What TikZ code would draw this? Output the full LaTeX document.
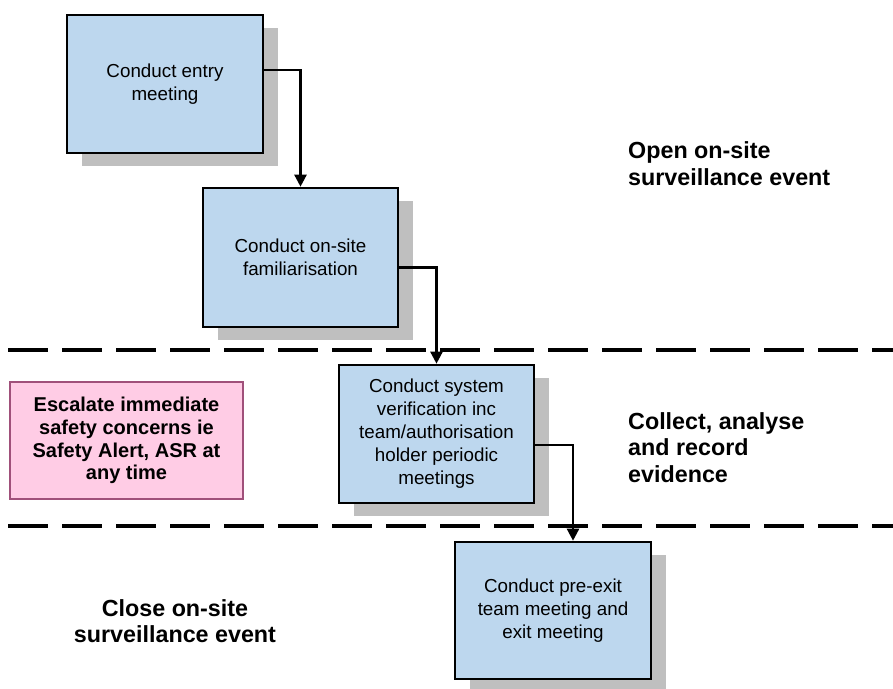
\documentclass[tikz,border=0pt]{standalone}
\usepackage{fontspec}
\setmainfont{Liberation Sans}
\usetikzlibrary{arrows.meta,shadows}
\definecolor{stepfill}{HTML}{BDD7EE}
\definecolor{shadowgrey}{HTML}{BFBFBF}
\definecolor{alertfill}{HTML}{FFCCE5}
\definecolor{alertline}{HTML}{A0507A}
\tikzset{
  stepbox/.style={draw=black, line width=2.6pt, fill=stepfill, align=center,
    inner sep=0pt, font=\fontsize{18.8}{23}\selectfont,
    drop shadow={shadow xshift=15pt, shadow yshift=-13pt, fill=shadowgrey, opacity=1}},
  alertbox/.style={draw=alertline, line width=1.2pt, fill=alertfill, align=center,
    inner sep=0pt, font=\bfseries\fontsize{20}{22.7}\selectfont},
  phaselabel/.style={align=left, inner sep=0pt, font=\bfseries\fontsize{23.3}{26.5}\selectfont},
  flow/.style={line width=2.4pt, -{Triangle[width=12pt,length=12pt]}},
  divider/.style={line width=4pt, dash pattern=on 40pt off 14pt}
}
\begin{document}
\begin{tikzpicture}[x=1pt,y=-1pt]
\useasboundingbox (0,0) rectangle (893,688);

% phase dividers
\draw[divider] (8,350) coordinate (d1a) -- (893,350) coordinate (d1b);
\draw[divider] (8,526) coordinate (d2a) -- (893,526) coordinate (d2b);

% process steps
\node[stepbox, minimum width=196pt, minimum height=138pt] (entry) at (165,84)
  {Conduct entry\\meeting};
\node[stepbox, minimum width=195pt, minimum height=139pt] (famil) at (300.5,257.5)
  {Conduct on-site\\familiarisation};
\node[stepbox, minimum width=195pt, minimum height=138pt] (verif) at (436.5,434)
  {Conduct system\\verification inc\\team/authorisation\\holder periodic\\meetings};
\node[stepbox, minimum width=196pt, minimum height=137pt] (exit) at (553,610.5)
  {Conduct pre-exit\\team meeting and\\exit meeting};

% escalation note
\node[alertbox, minimum width=233pt, minimum height=117pt] (alert) at (126.5,440.5)
  {Escalate immediate\\safety concerns ie\\Safety Alert, ASR at\\any time};

% phase labels
\node[phaselabel, anchor=west] (open) at (628,163.5) {Open on-site\\surveillance event};
\node[phaselabel, anchor=west] (collect) at (628,447.5) {Collect, analyse\\and record\\evidence};
\node[phaselabel, align=center] (close) at (175,621) {Close on-site\\surveillance event};

% connectors
\draw[flow] ([yshift=14pt]entry.east) -| (famil.north);
\draw[flow] ([yshift=-10pt]famil.east) -| (verif.north);
\draw[flow] ([yshift=-11pt]verif.east) -| ([xshift=20pt]exit.north);
\end{tikzpicture}
\end{document}
